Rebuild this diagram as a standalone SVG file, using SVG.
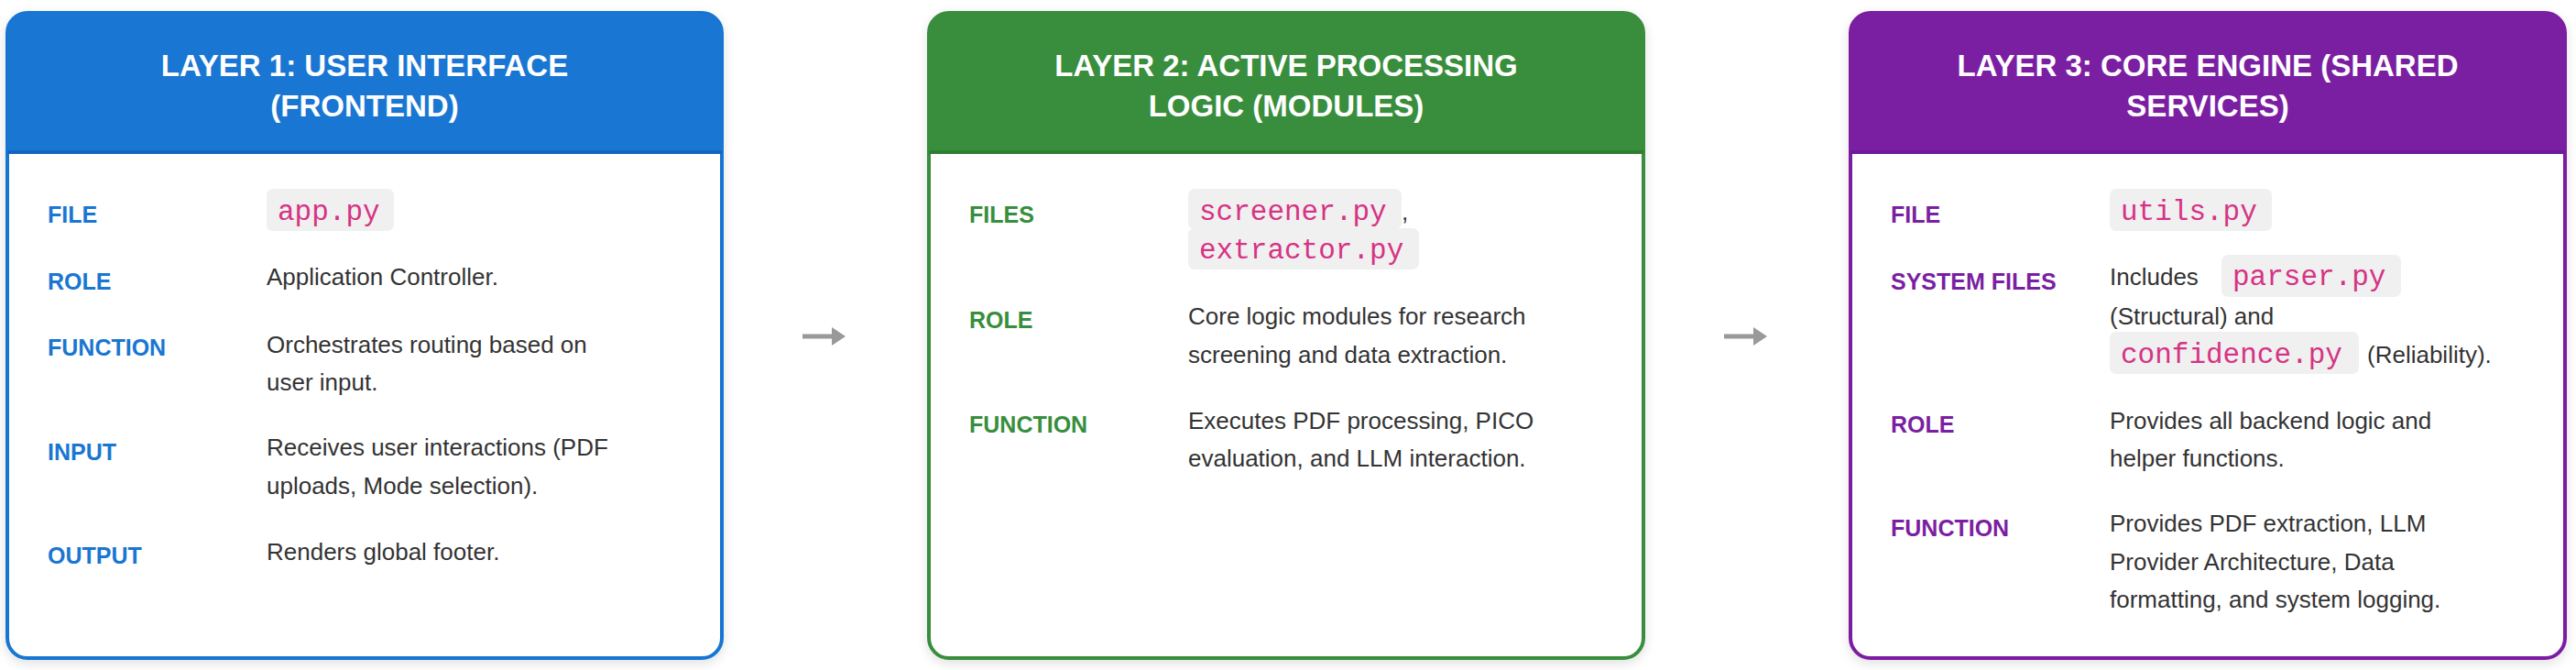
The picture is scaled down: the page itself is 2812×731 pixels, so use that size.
<svg xmlns="http://www.w3.org/2000/svg" width="2812" height="731" viewBox="0 0 2812 731">
<style>
.hd{font-family:"Liberation Sans",Arial,sans-serif;font-weight:bold;font-size:33px;fill:#fff;text-anchor:middle}
.lb{font-family:"Liberation Sans",Arial,sans-serif;font-weight:bold;font-size:25px}
.tx{font-family:"Liberation Sans",Arial,sans-serif;font-size:26px;fill:#333}
.cd{font-family:"Liberation Mono","DejaVu Sans Mono",monospace;font-size:31px;fill:#d63384}
.cb{fill:#f0f0f0}
.conn{stroke:#999;stroke-width:5;fill:none}
</style>
<defs>
<filter id="sh" x="-5%" y="-5%" width="110%" height="110%"><feDropShadow dx="0" dy="4" stdDeviation="6" flood-color="#000" flood-opacity="0.12"/></filter>
<marker id="ah" markerWidth="4" markerHeight="4" refX="1" refY="2" orient="auto" markerUnits="strokeWidth"><path d="M0,0 L3,2 L0,4 z" fill="#999"/></marker>
</defs>
<g id="connectors">
<line class="conn" x1="876" y1="367" x2="913" y2="367" marker-end="url(#ah)"/>
<line class="conn" x1="1882" y1="367" x2="1919" y2="367" marker-end="url(#ah)"/>
</g>
<g id="layer1">
<rect x="8" y="14" width="780" height="704" rx="22" fill="#fff" stroke="#1976d2" stroke-width="4" filter="url(#sh)"/>
<path d="M8,167 V36 a22,22 0 0 1 22,-22 H766 a22,22 0 0 1 22,22 V167 z" fill="#1976d2"/>
<line x1="8" y1="166" x2="788" y2="166" stroke="#1565c0" stroke-width="4"/>
<text class="hd" x="398" y="83">LAYER 1: USER INTERFACE</text>
<text class="hd" x="398" y="127">(FRONTEND)</text>
<g class="lb" fill="#1976d2">
<text x="52" y="243">FILE</text><text x="52" y="316">ROLE</text><text x="52" y="388">FUNCTION</text><text x="52" y="502">INPUT</text><text x="52" y="615">OUTPUT</text>
</g>
<rect class="cb" x="291" y="206" width="139" height="46" rx="7"/>
<text class="cd" x="303" y="240">app.py</text>
<text class="tx" x="291" y="311">Application Controller.</text>
<text class="tx" x="291" y="385">Orchestrates routing based on</text>
<text class="tx" x="291" y="426">user input.</text>
<text class="tx" x="291" y="497">Receives user interactions (PDF</text>
<text class="tx" x="291" y="539">uploads, Mode selection).</text>
<text class="tx" x="291" y="611">Renders global footer.</text>
</g>
<g id="layer2">
<rect x="1014" y="14" width="780" height="704" rx="22" fill="#fff" stroke="#388e3c" stroke-width="4" filter="url(#sh)"/>
<path d="M1014,167 V36 a22,22 0 0 1 22,-22 H1772 a22,22 0 0 1 22,22 V167 z" fill="#388e3c"/>
<line x1="1014" y1="166" x2="1794" y2="166" stroke="#2e7d32" stroke-width="4"/>
<text class="hd" x="1404" y="83">LAYER 2: ACTIVE PROCESSING</text>
<text class="hd" x="1404" y="127">LOGIC (MODULES)</text>
<g class="lb" fill="#388e3c">
<text x="1058" y="243">FILES</text><text x="1058" y="358">ROLE</text><text x="1058" y="472">FUNCTION</text>
</g>
<rect class="cb" x="1297" y="206" width="233" height="44" rx="7"/>
<rect class="cb" x="1297" y="249" width="252" height="45" rx="7"/>
<text class="cd" x="1309" y="240">screener.py</text>
<text class="tx" x="1530" y="240">,</text>
<text class="cd" x="1309" y="282">extractor.py</text>
<text class="tx" x="1297" y="354">Core logic modules for research</text>
<text class="tx" x="1297" y="396">screening and data extraction.</text>
<text class="tx" x="1297" y="468">Executes PDF processing, PICO</text>
<text class="tx" x="1297" y="509">evaluation, and LLM interaction.</text>
</g>
<g id="layer3">
<rect x="2020" y="14" width="780" height="704" rx="22" fill="#fff" stroke="#7b1fa2" stroke-width="4" filter="url(#sh)"/>
<path d="M2020,167 V36 a22,22 0 0 1 22,-22 H2778 a22,22 0 0 1 22,22 V167 z" fill="#7b1fa2"/>
<line x1="2020" y1="166" x2="2800" y2="166" stroke="#6a1b9a" stroke-width="4"/>
<text class="hd" x="2410" y="83">LAYER 3: CORE ENGINE (SHARED</text>
<text class="hd" x="2410" y="127">SERVICES)</text>
<g class="lb" fill="#7b1fa2">
<text x="2064" y="243">FILE</text><text x="2064" y="316">SYSTEM FILES</text><text x="2064" y="472">ROLE</text><text x="2064" y="585">FUNCTION</text>
</g>
<rect class="cb" x="2303" y="206" width="177" height="46" rx="7"/>
<text class="cd" x="2315" y="240">utils.py</text>
<text class="tx" x="2303" y="311">Includes</text>
<rect class="cb" x="2425" y="278" width="196" height="46" rx="7"/>
<text class="cd" x="2437" y="311">parser.py</text>
<text class="tx" x="2303" y="354">(Structural) and</text>
<rect class="cb" x="2303" y="362" width="272" height="46" rx="7"/>
<text class="cd" x="2315" y="396">confidence.py</text>
<text class="tx" x="2584" y="396">(Reliability).</text>
<text class="tx" x="2303" y="468">Provides all backend logic and</text>
<text class="tx" x="2303" y="509">helper functions.</text>
<text class="tx" x="2303" y="580">Provides PDF extraction, LLM</text>
<text class="tx" x="2303" y="622">Provider Architecture, Data</text>
<text class="tx" x="2303" y="663">formatting, and system logging.</text>
</g>
</svg>
